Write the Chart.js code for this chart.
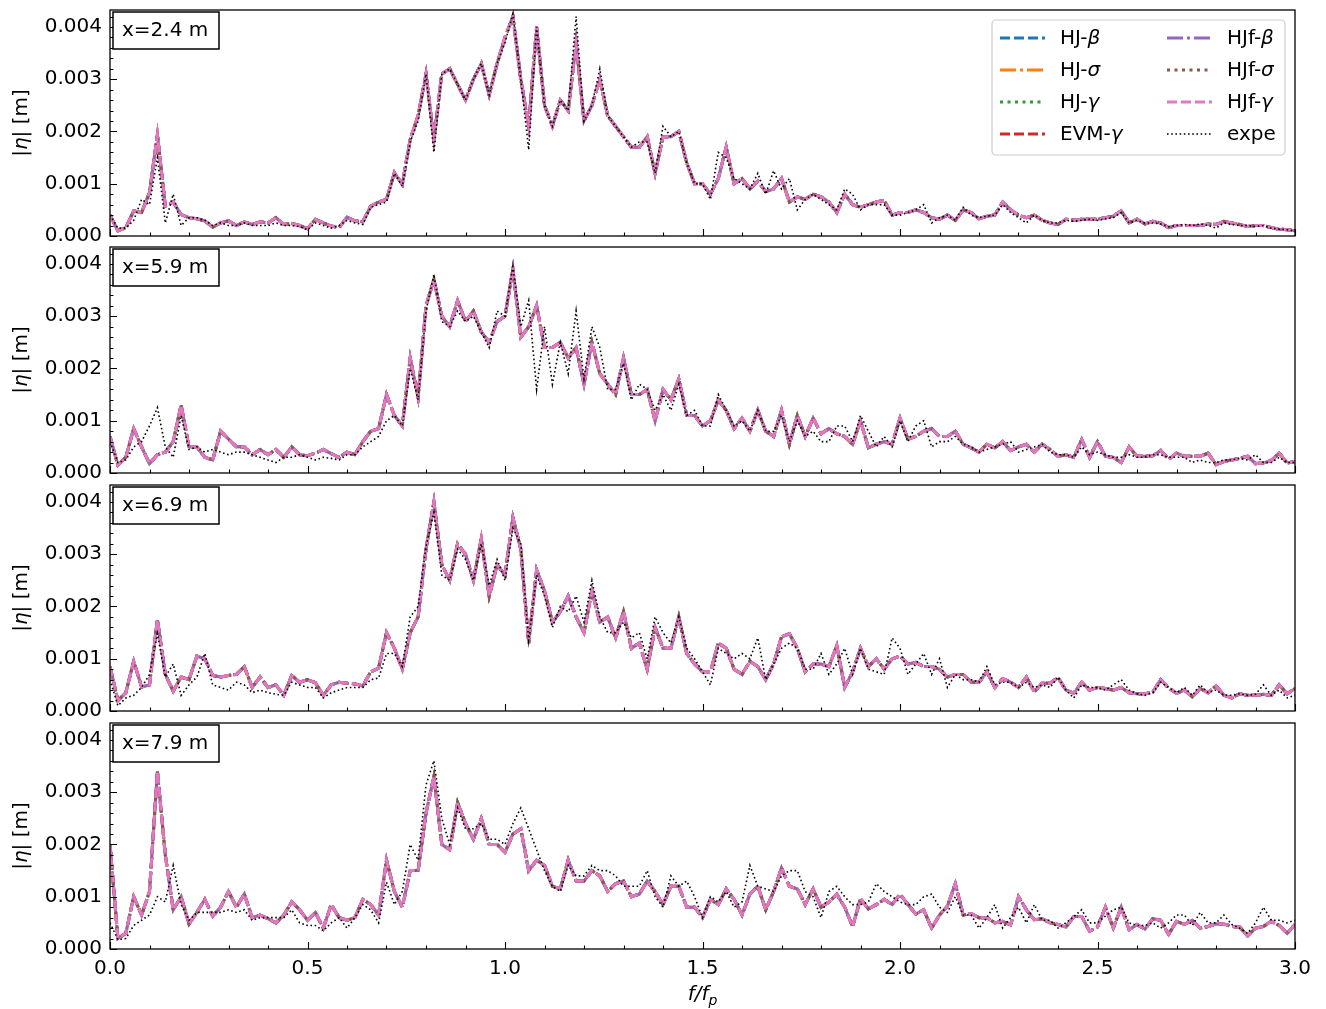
<!DOCTYPE html>
<html lang="en">
<head>
  <meta charset="UTF-8">
  <title>Spectra |eta| at four gauges</title>
  <script src="https://cdn.jsdelivr.net/npm/chart.js"></script>
  <style>
    body { margin: 0; background: #fff; }
    #wrap { position: relative; width: 1326px; height: 1009px; overflow: hidden; }
    #wrap canvas { position: absolute; left: 0; }
  </style>
</head>
<body>
<div id="wrap">
  <canvas id="c0" width="1326" height="270" style="top:-12px"></canvas>
  <canvas id="c1" width="1326" height="270" style="top:225px"></canvas>
  <canvas id="c2" width="1326" height="270" style="top:463px"></canvas>
  <canvas id="c3" width="1326" height="308" style="top:701px"></canvas>
</div>

<script>
  // frequency grid f/fp, step 0.02 from 0 to 3
  const freq = Array.from({length: 151}, (_, i) => +(i * 0.02).toFixed(2));

  const panelLabels = ['x=2.4 m', 'x=5.9 m', 'x=6.9 m', 'x=7.9 m'];
  const seriesNames = ['HJ-β', 'HJ-σ', 'HJ-γ', 'EVM-γ', 'HJf-β', 'HJf-σ', 'HJf-γ', 'expe'];

  // |eta| in units of 1e-4 m
  const p1Model = [
    4, 1, 1.6, 4.8, 4.5, 8.3, 19.4, 5.7, 6.5, 4.1,
    3.5, 3.3, 2.9, 1.7, 2.5, 2.9, 2.0, 2.7, 2.2, 2.7,
    2.5, 3.5, 2.2, 2.4, 2.0, 1.4, 3.2, 2.5, 1.9, 1.6,
    3.6, 2.9, 2.7, 5.7, 6.5, 7.0, 12.1, 9.9, 18.5, 23,
    31, 18.5, 31, 32, 29, 26, 30, 33, 27, 33,
    38, 42, 30, 21, 40, 25, 21, 26, 24, 37,
    22, 25, 30, 23, 21, 19, 17, 17, 19, 12,
    19, 19, 20, 14, 10,
    10, 8, 11, 17, 10, 11, 9, 10.5, 8.5, 9,
    11, 6.5, 7.5, 7, 8, 7.5, 6.5, 4.5, 8, 6,
    5.5, 6, 6.5, 6.8, 4, 4.5, 4.5, 5, 4.5, 3.5,
    3.2, 4, 3, 5, 4.5, 3.3, 3.8, 4, 6.5, 5,
    4, 3.5, 4, 3, 2.5, 2.2, 3.2, 3, 3.2, 3.2,
    3.2, 3.5, 3.8, 4.8, 2.5, 3.2, 2.3, 2.8, 2.5, 1.6,
    2, 2, 2, 2, 2.3, 2.2, 2.8, 2.5, 2.2, 1.8,
    2, 2, 1.6, 1.3, 1.2, 1
  ];
  const p1Expe = [
    4, 1.5, 1.5, 3, 7, 6, 15, 2.5, 8, 2,
    3.5, 3.5, 3, 2, 2.5, 2, 2, 2.5, 2, 2,
    2, 2.5, 2, 2, 1.8, 1.2, 2.5, 2, 1.5, 2,
    3, 2.5, 2.2, 5.5, 6, 6.5, 12, 9.5, 18, 22,
    31, 16, 31, 32, 29, 26, 30, 33, 27, 33,
    37, 42.5, 30, 16.5, 40, 25, 21, 26, 24, 42,
    22, 25, 32, 23, 21, 19, 17, 18, 18, 12,
    21, 19, 20, 14, 10,
    10, 7, 16, 15, 11, 10, 9, 12, 8, 12.5,
    9, 11, 5, 7, 8, 7, 6, 5, 9, 8,
    5, 6, 6, 6, 4, 4, 4.5, 5, 6, 2.5,
    3.5, 4, 3, 5.5, 4, 3.5, 3.8, 4, 6, 4.5,
    3.5, 2.5, 4, 3, 2.5, 2.5, 3, 2.8, 3, 3.2,
    3, 3.3, 3.5, 4.5, 2.5, 3, 2.5, 2.5, 2.3, 1.8,
    2, 2.2, 2, 2.3, 2, 1.5, 2.5, 2.2, 2, 2,
    1.8, 2, 1.5, 1.3, 1.2, 1
  ];

  const p2Model = [
    7, 1.5, 3, 8.5, 5, 1.8, 3.5, 4, 6, 13,
    5, 5, 3, 2.5, 8, 6.5, 5, 5, 3.5, 4.5,
    3.5, 4.5, 3, 5, 3.5, 3.3, 3.8, 4.5, 3.7, 3,
    4, 3.5, 6, 8, 8.5, 15, 11, 9, 22, 14.5,
    32, 37, 30, 28, 33, 29, 31, 27, 25, 29,
    30, 39, 26, 28, 32, 24, 24, 25, 22, 24,
    17, 25, 19, 17, 15, 22, 15, 15, 16, 10,
    16, 14, 18, 11, 11,
    9, 10, 14, 12, 8.5, 10.5, 8, 12, 8, 7,
    12, 5.5, 11, 7, 10.5, 7.5, 8.5, 7.5, 7, 5.5,
    10, 4.8, 5.5, 6, 5.5, 10.5, 6.5, 7, 8, 8.5,
    7, 7, 8, 5.5, 4.8, 4, 5.5, 4.8, 6, 4.3,
    5, 5.5, 4, 5.5, 4.5, 3.2, 3.5, 3, 6.4, 3,
    6, 3.2, 3, 2, 5, 3.2, 3.2, 3.3, 4.3, 2.6,
    3.8, 3.2, 3.2, 3.2, 3.8, 1.6, 2.2, 2.5, 2.8, 3.2,
    1.8, 1.9, 2.4, 3.8, 1.9, 2.2
  ];
  const p2Expe = [
    6, 2, 2.5, 5, 6, 9, 12.5, 5, 3, 11,
    4.5, 5, 4, 4.5, 4, 3.5, 4, 4, 3.5, 3,
    2.5, 2, 3, 3, 3.5, 3, 2.5, 3, 2.8, 2.5,
    3.5, 3.5, 5, 6, 7, 10, 11, 9, 20, 14,
    31, 38, 29, 28, 31, 29, 30, 27, 24, 31,
    30, 39.5, 28, 33, 16, 28, 17, 25, 19, 31,
    18, 28, 24, 16, 16, 21, 14, 17, 16, 12,
    15, 12, 17, 11, 12,
    9, 9, 15, 12, 9, 10, 8, 12, 8, 8,
    11, 6, 10, 7, 8, 6, 6, 9, 9, 6,
    11, 8, 5, 7, 5, 10, 6, 9, 10, 5,
    6, 6, 7, 5.5, 5, 4, 4.5, 5, 5.5, 6,
    4, 4.5, 5, 5.5, 4, 3.5, 3.5, 3, 5, 3.5,
    4, 3.5, 3, 3, 3.5, 3, 3, 3.5, 3.5, 3,
    3, 3, 2, 2.5, 2, 2, 2.5, 2.5, 2.8, 2.5,
    3.5, 2, 2, 3, 2, 2
  ];

  const p3Model = [
    8.5, 2, 3.5, 9.5, 4.6, 5, 17.5, 7, 3.8, 6.5,
    6, 10.5, 10, 6.8, 6.5, 6.8, 7, 8.5, 4.5, 6.5,
    4.5, 5, 3, 6.8, 5.5, 6, 5.4, 3, 5, 5.5,
    5.3, 5.2, 4.8, 7.5, 8.2, 15, 12, 8, 15, 18,
    31, 40, 28, 25, 32, 30, 25, 33, 22, 28,
    26, 37, 31, 13, 27, 23, 17, 19, 22, 18,
    15, 23, 17, 18, 14, 19, 12, 13, 8, 16,
    12, 12, 18, 11, 9,
    7.5, 7.5, 13, 12, 8, 7, 9.5, 8.5, 6, 9,
    14.2, 14.8, 12, 7.5, 9, 9, 8.5, 12.5, 4.5, 7.5,
    12, 8.5, 10, 8, 10, 10.5, 9, 9.3, 8.5, 8.5,
    8, 6.5, 7, 7, 5.5, 5.5, 7.5, 4.5, 6.2, 5.5,
    4.5, 6.5, 3.7, 5.3, 5.3, 6.4, 4, 3.4, 5.5, 4,
    4.5, 4.3, 4, 4.5, 3.5, 3.3, 3.3, 3.6, 6, 4.4,
    3.4, 4, 2.7, 4.3, 3.5, 4.8, 3, 2.5, 3.3, 3,
    3, 3.2, 3, 5, 3.3, 4.3
  ];
  const p3Expe = [
    6, 1, 2.5, 3, 4.5, 7, 14.8, 6.5, 9, 3,
    5, 6.5, 11, 5, 4.5, 4, 5.5, 5, 3.5, 4,
    3.5, 3.2, 3, 5.5, 5, 4.5, 4.5, 2.5, 3.5, 4,
    4.5, 4.5, 4.5, 6, 6.3, 11, 11, 8.5, 18, 20,
    31.5, 38, 26, 25, 31, 29, 25, 32, 24, 29,
    25, 35, 32, 13.5, 26, 22, 16, 20, 19, 22,
    17, 25, 18, 15, 15, 17, 14, 15, 10, 18,
    15, 13, 18, 12, 10,
    7.5, 5, 12, 11, 10, 11, 10, 14, 6, 9,
    12, 13, 12, 8, 8, 11, 7, 9, 12, 7,
    12, 8, 7.5, 7, 14, 12, 7, 9, 11, 7,
    10, 4.5, 7, 6, 6, 5.5, 8.5, 5, 5.5, 5.5,
    4.5, 5.5, 4.5, 5, 4.5, 6.5, 4, 2.5, 5, 4.5,
    4.5, 4, 5, 6, 4, 3.3, 3, 3.5, 5.5, 4.5,
    3.5, 4.5, 3, 5, 3.5, 4, 3, 3, 3.3, 3,
    3.2, 5, 3, 4, 2.5, 3
  ];

  const p4Model = [
    20, 2, 3, 10, 6.5, 11, 34, 18, 7.5, 10,
    4.8, 7, 9.5, 6.3, 8, 11, 8, 10.5, 6, 6.5,
    5.8, 5, 6.5, 9, 7.5, 5.5, 7, 4, 8.5, 6,
    5.5, 6, 9.5, 8.5, 6.5, 17, 11, 8, 15, 15,
    26, 33, 20, 19, 28, 24, 21, 25, 20, 20,
    18.5, 22, 23, 15, 17, 16, 12, 11.5, 17, 13,
    13, 15, 14, 11, 12.5, 13, 10, 10.5, 13, 11,
    8.5, 12, 12, 8, 8,
    6, 9.5, 8.5, 11.5, 9.5, 6.5, 10.5, 12, 7.5, 11,
    15.5, 12, 11.5, 8.5, 11.5, 8, 9, 10.5, 8, 4.3,
    9.6, 7.7, 8.5, 9.5, 8.5, 10.5, 8.5, 6.7, 7.5, 4,
    6.5, 8.2, 12.5, 6.5, 6.8, 6, 6, 5, 5.3, 4.6,
    10, 7.5, 5.6, 5.8, 5, 4.7, 4.2, 6.2, 6.2, 3.4,
    4.2, 8, 4, 8, 3.7, 4.7, 3.8, 5.8, 5.5, 2.8,
    5.3, 4.7, 5.5, 4, 4.3, 4.8, 4.8, 4.3, 4.2, 2.5,
    4, 4.3, 5.3, 4.5, 3, 4.7
  ];
  const p4Expe = [
    5, 1.8, 2, 4.5, 5.5, 6.5, 10, 9, 16, 8.5,
    5.5, 7, 7, 7, 7, 7.5, 7, 7.5, 5.5, 6,
    6, 6, 6, 7.5, 5, 4.5, 4.5, 3.5, 5, 6,
    4, 6, 8.5, 7.5, 5, 12.8, 8.5, 11, 20, 17,
    31.4, 36, 25, 20, 27, 23, 23, 24, 21, 21,
    20, 24, 27, 23, 19, 15, 12, 11, 16, 14,
    14, 16, 15, 15, 14, 12, 12, 12, 15, 10,
    8, 14, 12, 13, 10,
    6, 10, 9, 11, 8, 9, 16, 12, 11.5, 11,
    14, 15, 15, 11, 10, 6, 11, 12, 10, 8.5,
    8.5, 9, 12.5, 11, 10, 9, 8.5, 8.5, 10, 10.5,
    8, 7, 10, 6.5, 6.5, 4, 6, 8.5, 4, 6,
    8, 5, 8.5, 5.5, 5.5, 4, 5, 6.2, 7.5, 5,
    5, 6.3, 7.5, 8, 5, 4.5, 4.5, 5, 4, 5,
    6.5, 6.5, 4.5, 7, 5, 5, 6.5, 4.7, 4, 3,
    5, 8, 5.5, 5.5, 5, 5.5
  ];

  const modelByPanel = [p1Model, p2Model, p3Model, p4Model];
  const expeByPanel = [p1Expe, p2Expe, p3Expe, p4Expe];

  // line styles, matplotlib tab10
  const styles = [
    {color: '#1f77b4', dash: [10, 4], width: 3},
    {color: '#ff7f0e', dash: [16, 4, 3, 4], width: 3},
    {color: '#2ca02c', dash: [3, 4.5], width: 3},
    {color: '#d62728', dash: [10, 4], width: 3},
    {color: '#9467bd', dash: [16, 4, 3, 4], width: 3},
    {color: '#8c564b', dash: [3, 4.5], width: 3},
    {color: '#e377c2', dash: [10, 4], width: 3},
    {color: '#000000', dash: [1.6, 2.6], width: 1.6}
  ];

  const FONT = '"DejaVu Sans", Verdana, sans-serif';
  Chart.defaults.color = '#000';
  Chart.defaults.font.family = FONT;

  function drawMixed(ctx, parts, x, y) {
    // parts: [text, italic]
    let cx = x;
    parts.forEach(([t, it]) => {
      ctx.font = (it ? 'italic ' : '') + '20px ' + FONT;
      ctx.fillText(t, cx, y);
      cx += ctx.measureText(t).width;
    });
    return cx - x;
  }

  function nameParts(name) {
    const k = name.lastIndexOf('-');
    if (k < 0) return [[name, false]];
    return [[name.slice(0, k + 1), false], [name.slice(k + 1), true]];
  }

  function drawLegend(ctx, area) {
    const bx = area.right - 303, by = area.top + 10, bw = 293, bh = 135;
    ctx.save();
    ctx.fillStyle = 'rgba(255,255,255,0.85)';
    ctx.strokeStyle = '#cccccc';
    ctx.lineWidth = 1.2;
    ctx.beginPath();
    ctx.roundRect(bx, by, bw, bh, 4);
    ctx.fill();
    ctx.stroke();
    seriesNames.forEach((name, k) => {
      const col = k < 4 ? 0 : 1, row = k % 4;
      const lx = bx + 8 + col * 167;
      const ly = by + 18 + row * 32;
      const st = styles[k];
      ctx.strokeStyle = st.color;
      ctx.lineWidth = st.width;
      ctx.setLineDash(st.dash);
      ctx.beginPath();
      ctx.moveTo(lx, ly);
      ctx.lineTo(lx + 45, ly);
      ctx.stroke();
      ctx.setLineDash([]);
      ctx.fillStyle = '#000';
      ctx.textBaseline = 'middle';
      ctx.textAlign = 'left';
      drawMixed(ctx, nameParts(name), lx + 60, ly + 1);
    });
    ctx.restore();
  }

  const framePlugin = {
    id: 'frame',
    afterDraw(chart, args, opts) {
      const ctx = chart.ctx;
      const a = chart.chartArea;
      const xs = chart.scales.x, ys = chart.scales.y;
      ctx.save();
      ctx.strokeStyle = '#000';
      ctx.lineWidth = 1.3;
      ctx.strokeRect(a.left, a.top, a.right - a.left, a.bottom - a.top);

      // inward ticks
      ctx.lineWidth = 1.1;
      ctx.beginPath();
      for (let k = 0; k <= 30; k++) {
        const px = Math.round(xs.getPixelForValue(k / 10)) + 0.5;
        const len = k % 5 === 0 ? 7 : 3.5;
        ctx.moveTo(px, a.bottom);
        ctx.lineTo(px, a.bottom - len);
      }
      for (let v = 0; v <= 42; v += 2) {
        const py = Math.round(ys.getPixelForValue(v)) + 0.5;
        const len = v % 10 === 0 ? 7 : 3.5;
        ctx.moveTo(a.left, py);
        ctx.lineTo(a.left + len, py);
      }
      ctx.stroke();

      // gauge label box
      ctx.fillStyle = '#fff';
      ctx.lineWidth = 1.5;
      ctx.fillRect(a.left + 3, a.top + 2, 106, 37);
      ctx.strokeRect(a.left + 3, a.top + 2, 106, 37);
      ctx.fillStyle = '#000';
      ctx.font = '20px ' + FONT;
      ctx.textBaseline = 'middle';
      ctx.textAlign = 'left';
      ctx.fillText(opts.label, a.left + 12, a.top + 21);

      // y title
      ctx.save();
      ctx.translate(22, (a.top + a.bottom) / 2);
      ctx.rotate(-Math.PI / 2);
      const parts = [['|', false], ['η', true], ['| [m]', false]];
      let w = 0;
      parts.forEach(([t, it]) => {
        ctx.font = (it ? 'italic ' : '') + '20px ' + FONT;
        w += ctx.measureText(t).width;
      });
      drawMixed(ctx, parts, -w / 2, 0);
      ctx.restore();

      if (opts.legend) drawLegend(ctx, a);

      if (opts.xTitle) {
        const cx = (a.left + a.right) / 2;
        const cy = a.bottom + 46;
        ctx.font = 'italic 20px ' + FONT;
        const w1 = ctx.measureText('f/f').width;
        ctx.font = 'italic 14px ' + FONT;
        const w2 = ctx.measureText('p').width;
        const x0 = cx - (w1 + w2) / 2;
        ctx.font = 'italic 20px ' + FONT;
        ctx.fillText('f/f', x0, cy);
        ctx.font = 'italic 14px ' + FONT;
        ctx.fillText('p', x0 + w1, cy + 6);
      }
      ctx.restore();
    }
  };

  function buildChart(p) {
    const last = p === 3;
    const model = modelByPanel[p];
    const expe = expeByPanel[p];
    const datasets = seriesNames.map((name, k) => {
      const vals = k === 7 ? expe : model;
      return {
        label: name,
        data: freq.map((f, i) => ({x: f, y: vals[i]})),
        borderColor: styles[k].color,
        borderWidth: styles[k].width,
        borderDash: styles[k].dash,
        pointRadius: 0,
        tension: 0,
        fill: false,
        order: 7 - k
      };
    });

    new Chart(document.getElementById('c' + p), {
      type: 'line',
      data: {datasets},
      plugins: [framePlugin],
      options: {
        responsive: false,
        animation: false,
        layout: {padding: {top: 22, right: 31, bottom: last ? 0 : 22, left: 0}},
        plugins: {
          legend: {display: false},
          tooltip: {enabled: false},
          frame: {label: panelLabels[p], legend: p === 0, xTitle: last}
        },
        scales: {
          x: {
            type: 'linear',
            min: 0,
            max: 3,
            afterFit: s => { s.height = last ? 60 : 0; },
            ticks: {
              display: last,
              stepSize: 0.5,
              maxRotation: 0,
              padding: 0,
              font: {size: 20},
              callback: v => v.toFixed(1)
            },
            grid: {display: false},
            border: {display: false}
          },
          y: {
            min: 0,
            max: 43.25,
            afterFit: s => { s.width = 110; },
            ticks: {
              stepSize: 10,
              includeBounds: false,
              padding: 0,
              font: {size: 20},
              callback: v => (v / 10000).toFixed(3)
            },
            grid: {display: false},
            border: {display: false}
          }
        }
      }
    });
  }

  [0, 1, 2, 3].forEach(buildChart);
</script>
</body>
</html>
